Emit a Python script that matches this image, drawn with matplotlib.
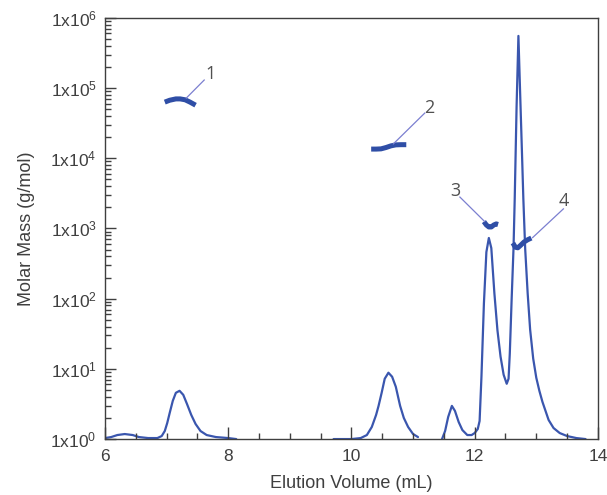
import numpy as np
import matplotlib
matplotlib.use("Agg")
import matplotlib.pyplot as plt
from matplotlib.ticker import FixedLocator, MultipleLocator, LogLocator, NullFormatter

plt.rcParams['font.family'] = ['Liberation Sans', 'DejaVu Sans']
plt.rcParams['mathtext.default'] = 'regular'

# detector trace (arbitrary units), three recorded pieces
trace_a_x = [6.00, 6.10, 6.20, 6.32, 6.45, 6.55, 6.70, 6.85, 6.92, 6.97, 7.01, 7.05, 7.10,
             7.15, 7.21, 7.27, 7.33, 7.40, 7.47, 7.55, 7.65, 7.80, 8.00, 8.13]
trace_a_y = [1, 2, 4, 5, 4, 2, 1, 1, 3, 8, 16, 26, 38,
             46, 48, 44, 35, 24, 15, 8, 4, 2, 1, 0]

trace_b_x = [9.71, 10.00, 10.15, 10.25, 10.33, 10.40, 10.44, 10.49, 10.54, 10.60, 10.66,
             10.72, 10.79, 10.85, 10.92, 11.00, 11.08]
trace_b_y = [0, 0, 1, 4, 12, 24, 33, 46, 60, 66, 62,
             52, 33, 21, 12, 5, 2]

trace_c_x = [11.47, 11.52, 11.57, 11.63, 11.68, 11.74, 11.80, 11.88, 11.95, 12.00, 12.05,
             12.08, 12.11, 12.15, 12.19, 12.23, 12.27, 12.32, 12.37, 12.42, 12.47, 12.52,
             12.55, 12.57, 12.60, 12.63, 12.65, 12.68, 12.71, 12.74, 12.77, 12.79, 12.82,
             12.86, 12.90, 12.95, 13.00, 13.05, 13.10, 13.15, 13.20, 13.28, 13.38, 13.50,
             13.65, 13.80]
trace_c_y = [0, 8, 22, 33, 28, 17, 9, 4, 4, 6, 10,
             18, 62, 135, 186, 200, 190, 145, 108, 82, 64, 55,
             60, 85, 139, 189, 239, 330, 401, 340, 280, 239, 189,
             145, 109, 80, 61, 48, 37, 28, 19, 11, 6, 3,
             1, 0]

# molar mass segments (g/mol)
mm1_x = [6.97, 7.05, 7.15, 7.22, 7.30, 7.38, 7.47]
mm1_y = [6.3e4, 6.7e4, 7.0e4, 7.0e4, 6.8e4, 6.3e4, 5.7e4]
mm2_x = [10.32, 10.40, 10.48, 10.56, 10.64, 10.72, 10.80, 10.89]
mm2_y = [1.35e4, 1.35e4, 1.36e4, 1.42e4, 1.50e4, 1.55e4, 1.56e4, 1.56e4]
mm3_x = [12.15, 12.19, 12.23, 12.27, 12.31, 12.35, 12.38]
mm3_y = [1.25e3, 1.12e3, 1.05e3, 1.05e3, 1.12e3, 1.16e3, 1.14e3]
mm4_x = [12.62, 12.66, 12.70, 12.75, 12.80, 12.86, 12.92]
mm4_y = [620, 540, 530, 580, 640, 690, 730]

# peak labels: text position and the point the leader line goes to
lab_text = ['1', '2', '3', '4']
lab_pos = [(7.72, 1.6e5), (11.27, 5.2e4), (11.68, 3.4e3), (13.45, 2.5e3)]
lab_from = [(7.61, 1.3e5), (11.19, 4.4e4), (11.76, 2.8e3), (13.44, 1.9e3)]
lab_to = [(7.32, 7.2e4), (10.68, 1.6e4), (12.16, 1.26e3), (12.94, 740)]

blue = '#3a56ae'
dark = '#3f3f3f'

fig = plt.figure(figsize=(6.07, 4.95), dpi=100)
ax = fig.add_axes([0.173, 0.113, 0.812, 0.851])
ax2 = ax.twinx()

for xs, ys in [(trace_a_x, trace_a_y), (trace_b_x, trace_b_y), (trace_c_x, trace_c_y)]:
    ax2.plot(xs, ys, color=blue, lw=1.6, solid_joinstyle='round', solid_capstyle='round')
ax2.set_ylim(0, 419)
ax2.set_yticks([])
ax2.axis('off')

ax.set_zorder(ax2.get_zorder() + 1)
ax.patch.set_visible(False)

for xs, ys in [(mm1_x, mm1_y), (mm2_x, mm2_y), (mm3_x, mm3_y), (mm4_x, mm4_y)]:
    ax.plot(xs, ys, color='#2f4ea6', lw=3.6, solid_capstyle='butt')

for t, p, a, b in zip(lab_text, lab_pos, lab_from, lab_to):
    ax.plot([a[0], b[0]], [a[1], b[1]], color='#7b7fd0', lw=0.9)
    ax.text(p[0], p[1], t, fontsize=13, color='#505050', family=['Open Sans', 'DejaVu Sans'],
            ha='center', va='center')

ax.set_yscale('log')
ax.set_xlim(6, 14)
ax.set_ylim(1, 1e6)

ax.xaxis.set_major_locator(MultipleLocator(2))
ax.xaxis.set_minor_locator(MultipleLocator(0.5))
ax.yaxis.set_major_locator(FixedLocator([10.0 ** k for k in range(7)]))
ax.yaxis.set_minor_locator(LogLocator(base=10, subs=np.arange(2, 10), numticks=20))
ax.yaxis.set_minor_formatter(NullFormatter())
ax.set_yticklabels([r'1x10$^{%d}$' % k for k in range(7)])

ax.tick_params(which='both', direction='in', colors=dark, labelsize=12.5, width=1)
ax.tick_params(which='major', length=8)
ax.tick_params(which='minor', length=4)
ax.tick_params(axis='x', which='major', length=9, pad=7)
ax.tick_params(axis='y', which='major', pad=6)

for s in ax.spines.values():
    s.set_color(dark)
    s.set_linewidth(1)

ax.set_xlabel('Elution Volume (mL)', fontsize=13, color=dark, labelpad=8)
ax.set_ylabel('Molar Mass (g/mol)', fontsize=13, color=dark, labelpad=11)

fig.savefig('out.png', dpi=100)
